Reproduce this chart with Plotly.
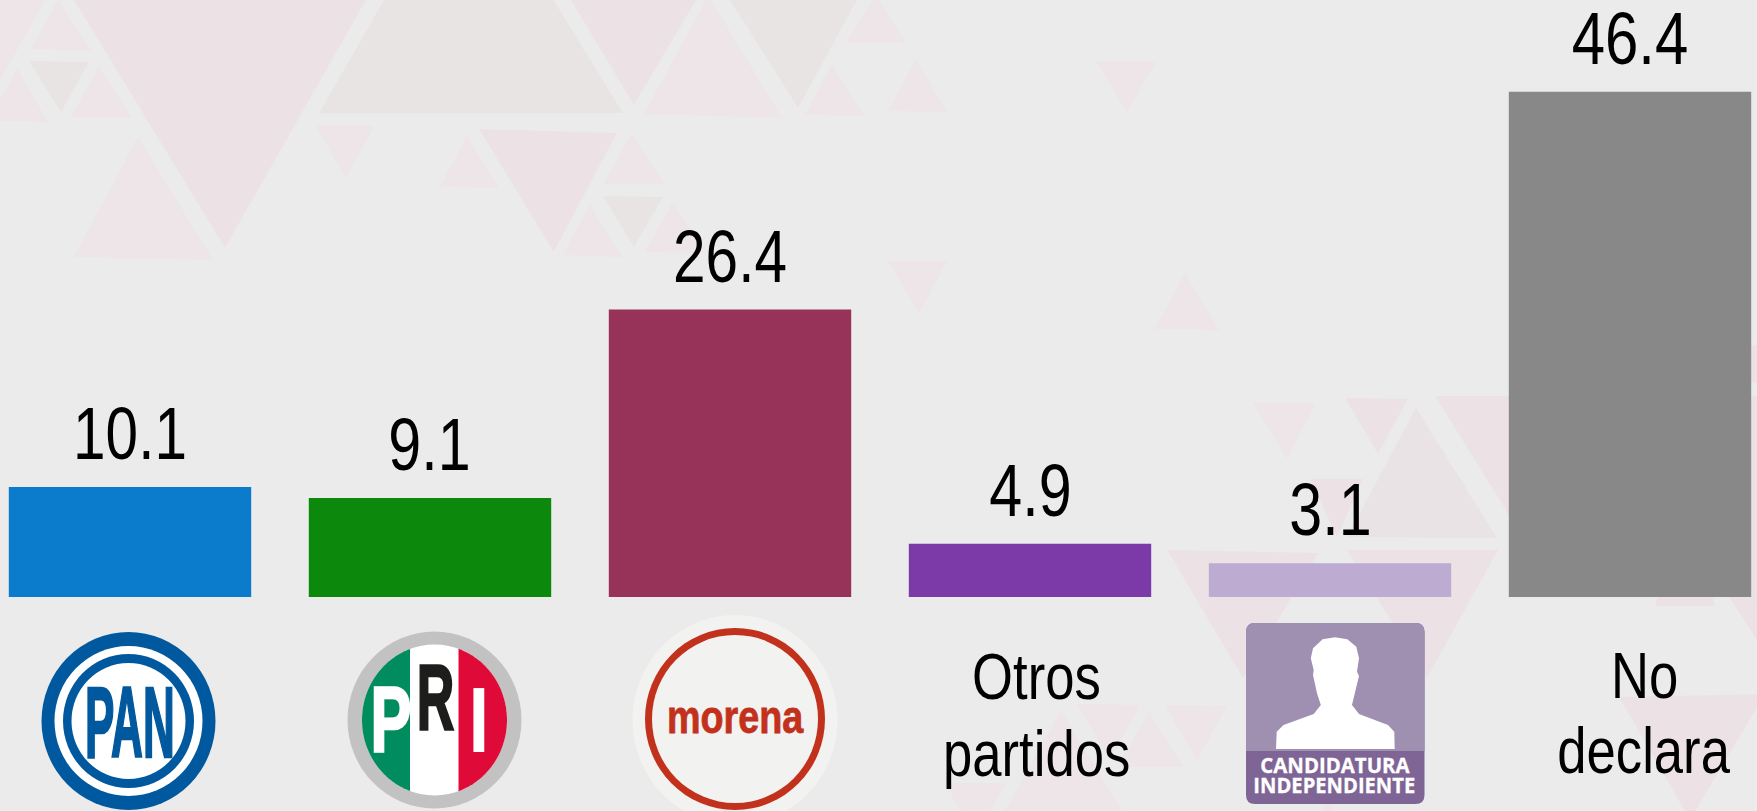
import json
import numpy as np
import plotly.graph_objects as go

W, H = 1757, 811

# ---------- data ----------
categories = ["PAN", "PRI", "morena", "Otros partidos", "Candidatura independiente", "No declara"]
values = [10.1, 9.1, 26.4, 4.9, 3.1, 46.4]
bar_colors = ["#0b7bcb", "#0c880c", "#973358", "#7b3aa8", "#bdabd2", "#888888"]
value_labels = ["10.1", "9.1", "26.4", "4.9", "3.1", "46.4"]

SANS = "Liberation Sans, Arial, sans-serif"
BG = "#ebebeb"

# background decoration (pixel polygons, colour)
P1, P2, P3, P4 = "#ece2e6", "#e9e4e4", "#ede5e7", "#eae3e5"
background_triangles = [
    ([(74, 0), (366, 0), (225, 248)], P1),
    ([(384, 0), (553.6, 0), (623, 113), (319, 113)], P2),
    ([(58, 0), (31, 49), (91.5, 51)], P3),
    ([(29, 61), (89, 62), (61, 112)], P2),
    ([(99, 67), (71, 117), (132, 118)], P3),
    ([(17, 69), (48, 122), (0, 121), (0, 100)], P3),
    ([(0, 0), (45, 0), (0, 80)], P3),
    ([(138, 137), (74, 257), (213, 260)], P3),
    ([(315, 125), (374, 126), (346, 178)], P3),
    ([(467, 136), (440, 187), (499, 188)], P3),
    ([(479, 129), (617, 133), (553.6, 252)], P1),
    ([(632, 133), (603.6, 184), (664, 184)], P3),
    ([(603, 196), (663, 197), (634, 247)], P2),
    ([(590, 205), (562.5, 255), (622, 257)], P3),
    ([(673, 202), (645, 252), (705, 253)], P3),
    ([(571, 0), (696, 0), (634, 105)], P1),
    ([(706, 0), (711, 0), (782, 118), (644, 114)], P3),
    ([(730, 0), (857, 0), (798, 108)], P2),
    ([(873, 0), (879, 0), (906, 43), (846, 42)], P3),
    ([(832, 64), (805, 115), (864, 116)], P3),
    ([(916, 59), (888, 111), (947, 112)], P3),
    ([(1096, 61), (1155.5, 62), (1127, 112)], P3),
    ([(888, 261), (947, 261), (919, 313)], P3),
    ([(1185, 273), (1155, 329), (1219, 330)], P3),
    ([(1253, 403), (1316, 403), (1287, 459)], P3),
    ([(1345, 398), (1408, 399), (1378, 454)], P1),
    ([(1416, 408), (1347, 537), (1497, 538)], P4),
    ([(1435, 396), (1757, 396), (1757, 640), (1729, 597), (1560, 597)], P1),
    ([(1310, 479), (1363, 479), (1337, 537)], P1),
    ([(1167, 550), (1318, 553), (1243, 678)], P1),
    ([(1347, 550), (1498, 550), (1427, 678)], P1),
    ([(1685, 500), (1655, 606), (1715, 606)], P1),
    ([(1745, 345), (1757, 345), (1757, 383), (1745, 383)], P1),
    ([(1619, 697), (1765, 694), (1690, 820)], P1),
    ([(1077, 704), (1140, 705), (1110, 760)], P3),
    ([(1149, 712), (1118, 767), (1183, 767)], P3),
    ([(1165, 705), (1227, 706), (1197, 760)], P3),
    ([(1061, 710), (1005, 811), (1122, 811)], P3),
    ([(945, 783), (1006, 783), (975, 838)], P3),
    ([(1328, 800), (1300, 860), (1360, 860)], P3),
]

# silhouette outline in the candidate icon (pixels)
silhouette = [(1276, 749), (1276.7, 731.7), (1283.5, 725), (1313.7, 714), (1320.8, 705),
              (1317, 693.3), (1313, 675), (1313.7, 670), (1310.8, 658.3), (1313, 648.3),
              (1322.6, 639.3), (1335, 637.3), (1347.4, 639.3), (1356.3, 646.7), (1359, 658.3),
              (1357, 671.7), (1359, 676), (1355.6, 690), (1352, 705), (1359, 714),
              (1388, 725), (1394.3, 731.7), (1394.7, 749)]

# horizontal condensing of the narrow-looking texts: text -> (factor, outline width)
condense = {
    "PAN": (0.44, 2.5), "P": (0.66, 2.5), "R": (0.56, 2.5), "I": (0.80, 0),
    "morena": (0.82, 0.8), "CANDIDATURA": (0.97, 0.3), "INDEPENDIENTE": (0.96, 0.3),
    "10.1": (0.79, 0), "9.1": (0.80, 0), "26.4": (0.79, 0), "4.9": (0.80, 0), "3.1": (0.80, 0),
    "46.4": (0.81, 0),
}
DEFAULT_CONDENSE = 0.81


# ---------- helpers ----------
def fx(px):
    return px / W


def fy(py):
    return 1 - py / H


def poly_path(points):
    return "M " + " L ".join(f"{fx(x):.5f},{fy(y):.5f}" for x, y in points) + " Z"


shapes = []


def polygon(points, color, layer="above"):
    shapes.append(dict(type="path", xref="paper", yref="paper", path=poly_path(points),
                       fillcolor=color, line=dict(width=0), layer=layer))


def ellipse(cx, cy, rx, ry, color, layer="above"):
    shapes.append(dict(type="circle", xref="paper", yref="paper",
                       x0=fx(cx - rx), x1=fx(cx + rx), y0=fy(cy + ry), y1=fy(cy - ry),
                       fillcolor=color, line=dict(width=0), layer=layer))


def ellipse_part(cx, cy, rx, ry, x_limit, side):
    """Polygon for the side of an ellipse beyond a vertical chord."""
    a0 = np.arccos((x_limit - cx) / rx)
    if side == "right":
        t = np.linspace(-a0, a0, 80)
    else:
        t = np.linspace(a0, 2 * np.pi - a0, 80)
    return [(cx + rx * np.cos(a), cy + ry * np.sin(a)) for a in t]


annotations = []


def label(cx, cy, text, size, color="#000000", family=SANS, weight=400):
    annotations.append(dict(xref="paper", yref="paper", x=fx(cx), y=fy(cy), text=text,
                            showarrow=False, xanchor="center", yanchor="middle",
                            font=dict(family=family, size=size, color=color, weight=weight)))


# ---------- background ----------
for pts, col in background_triangles:
    polygon(pts, col, layer="below")

# ---------- PAN logo ----------
PAN_BLUE = "#00599f"
ellipse(128.5, 721, 87, 89, PAN_BLUE)
ellipse(128.5, 721, 74, 75, "#ffffff")
ellipse(128.5, 721, 65.5, 67, PAN_BLUE)
ellipse(128.5, 721, 57, 58, "#ffffff")
label(129.5, 721.5, "PAN", 100, PAN_BLUE, weight=700)

# ---------- PRI logo ----------
ellipse(434.5, 720, 87, 88.5, "#c2c2c2")
ellipse(434.5, 720, 72.5, 75.5, "#ffffff")
polygon(ellipse_part(434.5, 720, 72.5, 75.5, 410, "left"), "#008c5e")
polygon(ellipse_part(434.5, 720, 72.5, 75.5, 458.5, "right"), "#e00a38")
label(390.5, 720, "P", 93, "#ffffff", weight=700)
label(435, 697, "R", 93, "#1d1d1b", weight=700)
label(479, 720, "I", 93, "#ffffff", weight=700)

# ---------- morena logo ----------
ellipse(735, 720, 102.5, 105, "#f2f2f0")
ellipse(735, 719, 90, 91, "#c2311c")
ellipse(735, 719, 83, 84, "#f2f2f0")
label(735, 717, "morena", 46, "#c2311c", weight=700)

# ---------- candidate icon ----------
x0, x1, y0, y1, mid, r = 1246, 1424.5, 623, 804, 751, 9
shapes.append(dict(type="path", xref="paper", yref="paper", layer="above", line=dict(width=0),
                   fillcolor="#7e6595",
                   path=(f"M {fx(x0 + r)},{fy(y0)} L {fx(x1 - r)},{fy(y0)} "
                         f"Q {fx(x1)},{fy(y0)} {fx(x1)},{fy(y0 + r)} L {fx(x1)},{fy(y1 - r)} "
                         f"Q {fx(x1)},{fy(y1)} {fx(x1 - r)},{fy(y1)} L {fx(x0 + r)},{fy(y1)} "
                         f"Q {fx(x0)},{fy(y1)} {fx(x0)},{fy(y1 - r)} L {fx(x0)},{fy(y0 + r)} "
                         f"Q {fx(x0)},{fy(y0)} {fx(x0 + r)},{fy(y0)} Z")))
shapes.append(dict(type="path", xref="paper", yref="paper", layer="above", line=dict(width=0),
                   fillcolor="#9f8fb1",
                   path=(f"M {fx(x0 + r)},{fy(y0)} L {fx(x1 - r)},{fy(y0)} "
                         f"Q {fx(x1)},{fy(y0)} {fx(x1)},{fy(y0 + r)} L {fx(x1)},{fy(mid)} "
                         f"L {fx(x0)},{fy(mid)} L {fx(x0)},{fy(y0 + r)} "
                         f"Q {fx(x0)},{fy(y0)} {fx(x0 + r)},{fy(y0)} Z")))
polygon(silhouette, "#ffffff")
label(1334.5, 765, "CANDIDATURA", 21, "#ffffff", family="Open Sans, sans-serif", weight=700)
label(1334.5, 785, "INDEPENDIENTE", 21, "#ffffff", family="Open Sans, sans-serif", weight=700)

# ---------- category text ----------
label(1036, 676, "Otros", 65)
label(1036, 753, "partidos", 65)
label(1644, 675, "No", 65)
label(1644, 750, "declara", 65)

# ---------- value labels, placed from the data ----------
for cat, val, txt in zip(categories, values, value_labels):
    annotations.append(dict(x=cat, y=val, xref="x", yref="y", text=txt, showarrow=False,
                            xanchor="center", yanchor="bottom", yshift=10,
                            font=dict(family=SANS, size=74, color="#000000")))

# ---------- chart ----------
fig = go.Figure(go.Bar(
    x=categories, y=values,
    marker=dict(color=bar_colors, line=dict(width=0)),
    width=0.808, hoverinfo="skip",
))

fig.update_layout(
    width=W, height=H, autosize=False,
    margin=dict(l=0, r=0, t=0, b=0, pad=0),
    paper_bgcolor=BG, plot_bgcolor="rgba(0,0,0,0)",
    showlegend=False, shapes=shapes, annotations=annotations,
    xaxis=dict(type="category", categoryorder="array", categoryarray=categories,
               range=[-0.4333, 5.4233], visible=False, fixedrange=True),
    yaxis=dict(range=[-19.65, 54.82], visible=False, fixedrange=True, zeroline=False),
)

post = """
document.body.style.margin='0';document.body.style.overflow='hidden';
(function(){
  var map = %s, dflt = %s;
  function apply(){
    document.querySelectorAll('.annotation-text').forEach(function(t){
      if(t.hasAttribute('textLength')) return;
      var c = map[t.textContent] || [dflt, 0];
      t.setAttribute('lengthAdjust','spacingAndGlyphs');
      t.setAttribute('textLength', t.getComputedTextLength()*c[0]);
      if(c[1]){ t.style.stroke = t.style.fill; t.style.strokeWidth = c[1]+'px'; }
    });
  }
  apply();
  setTimeout(apply, 50);
  var gd = document.getElementById('{plot_id}');
  if(gd && gd.on) gd.on('plotly_afterplot', apply);
})();
""" % (json.dumps(condense), DEFAULT_CONDENSE)

fig.write_html("out.html", config=dict(displayModeBar=False), post_script=post)
